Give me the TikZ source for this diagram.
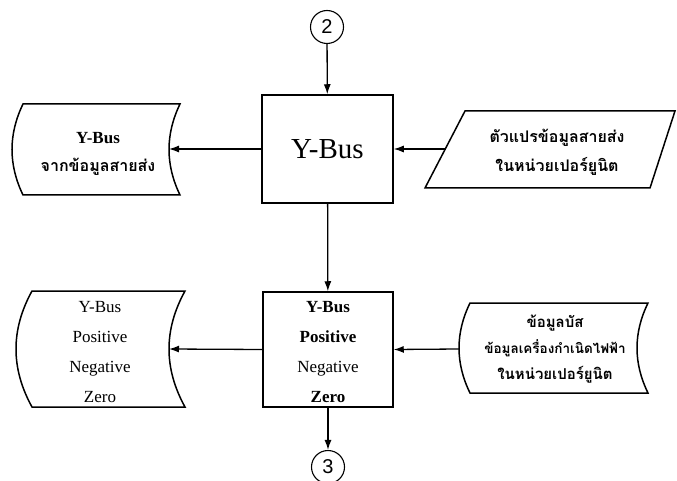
\documentclass[tikz,border=0pt]{standalone}
\usepackage{fontspec}
\setmainfont{Liberation Serif}
\newfontfamily\thaifont[Script=Thai]{Loma}
\newfontfamily\numfont{Liberation Sans}
\usetikzlibrary{arrows.meta}

% Stored-data outline: top-left x, top y, right x, bottom y, bulge
\newcommand\storedoutline[5]{%
  \pgfmathsetmacro\sdc{#5*4/3}%
  \pgfmathsetmacro\sdh{(#4-#2)/3}%
  \draw[shapeline] (#1,#2) -- (#3,#2)
    .. controls +(-\sdc,\sdh) and +(-\sdc,-\sdh) .. (#3,#4)
    -- (#1,#4)
    .. controls +(-\sdc,-\sdh) and +(-\sdc,\sdh) .. cycle;
}

\tikzset{
  shapeline/.style={line width=1.5pt, line join=miter},
  procbox/.style={draw, line width=1.5pt, inner sep=0pt},
  txt/.style={inner sep=0pt, align=center, font=\fontsize{17}{30}\selectfont},
  thai/.style={inner sep=0pt, align=center, font=\thaifont\bfseries\fontsize{16}{29}\selectfont},
  connector/.style={draw, line width=1.3pt, -{Latex[length=10pt,width=7pt]}},
  conncircle/.style={draw, circle, line width=1.1pt, minimum size=33pt, inner sep=0pt,
    font=\numfont\fontsize{20}{20}\selectfont}
}

\begin{document}
\begin{tikzpicture}[x=1pt,y=-1pt]
\useasboundingbox (0,0) rectangle (677,481);

% off-page connectors
\node[conncircle] (c2) at (327,27) {2};
\node[conncircle] (c3) at (328,467) {3};

% process boxes
\node[procbox, minimum width=131pt, minimum height=108pt,
      font=\fontsize{29}{29}\selectfont] (ybus) at (327.5,149) {Y-Bus};
\node[procbox, minimum width=130pt, minimum height=115pt] (seq) at (328,349.5) {};
\node[txt] (seqtxt) at (328,352) {\textbf{Y-Bus}\\\textbf{Positive}\\Negative\\\textbf{Zero}};

% stored data: Y-Bus from line data
\storedoutline{23}{104}{180}{195}{11}
\coordinate (d1in) at (169,149);
\node[txt] (d1a) at (98,138) {\textbf{Y-Bus}};
\node[thai] (d1b) at (98,167) {จากข้อมูลสายส่ง};

% stored data: sequence Y-Bus
\storedoutline{32}{291}{185}{407}{16}
\coordinate (d2in) at (169,349);
\node[txt] (d2txt) at (100,352) {Y-Bus\\Positive\\Negative\\Zero};

% stored data: bus and generator data
\storedoutline{470}{303}{648}{393}{11}
\coordinate (d3out) at (459,349);
\node[thai, font=\thaifont\bfseries\fontsize{15}{26}\selectfont] (d3txt) at (555,349)
  {ข้อมูลบัส\\{\fontsize{13.5}{26}\selectfont ข้อมูลเครื่องกำเนิดไฟฟ้า}\\ในหน่วยเปอร์ยูนิต};

% input: line parameters
\draw[shapeline] (465,111) -- (675,111) -- (650,188) -- (425,188) -- cycle;
\coordinate (pin) at (445.5,149);
\node[thai] (ptxt) at (557,152) {ตัวแปรข้อมูลสายส่ง\\ในหน่วยเปอร์ยูนิต};

% flow
\draw[connector] (c2) -- (ybus);
\draw[connector] (ybus.west) -- (d1in);
\draw[connector] (pin) -- (ybus.east);
\draw[connector] (ybus) -- (seq);
\draw[connector] (seq.west) -- (d2in);
\draw[connector] (d3out) -- (seq.east);
\draw[connector] (seq) -- (c3);
\end{tikzpicture}
\end{document}
